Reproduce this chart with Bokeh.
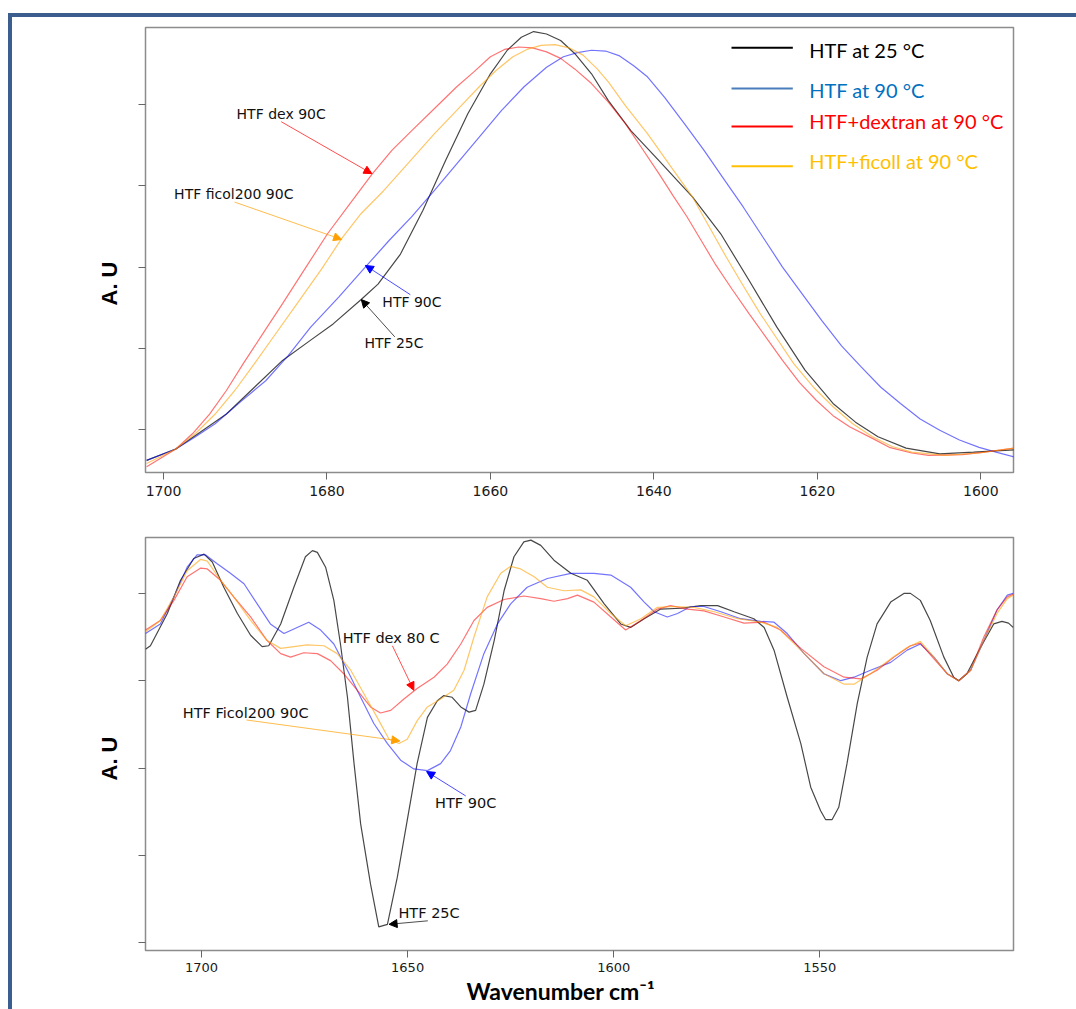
from bokeh.plotting import figure
from bokeh.models import Range1d, FixedTicker, Title, Arrow, NormalHead, ColumnDataSource
from bokeh.layouts import column
from bokeh.embed import file_html
from bokeh.resources import INLINE
from bokeh.core.properties import value

# ---------------- data: top panel (amide I, 1700-1600) ----------------
TOP_XTICKS = [1700, 1680, 1660, 1640, 1620, 1600]
Y_TICKS = [0, 1, 2, 3, 4]

top_x_htf25 = [1702.06, 1698.49, 1695.74, 1692.30, 1688.87, 1685.43, 1681.99, 1679.24, 1675.81, 1673.75,
               1671.00, 1668.25, 1665.50, 1662.75, 1660.00, 1657.94, 1656.22, 1654.71, 1653.13, 1651.41,
               1649.69, 1647.63, 1645.57, 1642.82, 1639.38, 1635.26, 1631.82, 1628.38, 1624.95, 1621.51,
               1618.08, 1615.33, 1612.58, 1609.14, 1605.02, 1600.89, 1595.88]
top_y_htf25 = [-0.38, -0.24, -0.05, 0.19, 0.52, 0.85, 1.10, 1.30, 1.60, 1.79,
               2.16, 2.70, 3.31, 3.89, 4.38, 4.67, 4.83, 4.90, 4.87, 4.79,
               4.63, 4.38, 4.05, 3.68, 3.31, 2.86, 2.41, 1.84, 1.26, 0.73,
               0.32, 0.09, -0.09, -0.23, -0.30, -0.28, -0.25]

top_x_htf90 = [1702.06, 1698.49, 1696.08, 1693.68, 1690.58, 1687.49, 1684.74, 1681.99, 1678.56, 1675.12,
               1672.37, 1669.62, 1666.87, 1664.12, 1661.37, 1658.63, 1655.88, 1653.13, 1651.07, 1649.35,
               1647.63, 1645.91, 1644.19, 1642.47, 1640.76, 1638.69, 1636.29, 1633.88, 1631.48, 1629.07,
               1626.67, 1624.26, 1621.86, 1619.45, 1617.04, 1614.64, 1612.23, 1609.83, 1607.42, 1605.02,
               1602.61, 1600.21, 1598.14, 1595.88]
top_y_htf90 = [-0.38, -0.24, -0.09, 0.07, 0.34, 0.60, 0.91, 1.26, 1.63, 2.02,
               2.33, 2.62, 2.94, 3.27, 3.60, 3.93, 4.22, 4.46, 4.59, 4.64,
               4.67, 4.66, 4.60, 4.48, 4.34, 4.09, 3.77, 3.44, 3.09, 2.74,
               2.37, 2.00, 1.67, 1.34, 1.03, 0.77, 0.52, 0.32, 0.13, -0.01,
               -0.13, -0.22, -0.28, -0.34]

top_x_dex = [1702.06, 1698.49, 1696.43, 1694.36, 1692.30, 1690.24, 1687.84, 1685.43, 1682.68, 1679.93,
             1677.18, 1674.43, 1672.03, 1669.62, 1666.87, 1664.12, 1662.06, 1660.00, 1658.28, 1656.56,
             1654.85, 1653.13, 1651.41, 1649.69, 1647.63, 1645.57, 1643.51, 1641.44, 1639.38, 1637.66,
             1635.95, 1634.23, 1632.51, 1630.45, 1628.38, 1626.32, 1624.26, 1622.20, 1620.14, 1618.08,
             1616.01, 1613.26, 1611.20, 1608.45, 1606.39, 1602.27, 1599.52, 1595.88]
top_y_dex = [-0.46, -0.24, -0.05, 0.19, 0.48, 0.81, 1.18, 1.55, 1.98, 2.41,
             2.78, 3.15, 3.44, 3.68, 3.95, 4.22, 4.40, 4.59, 4.68, 4.71,
             4.70, 4.65, 4.57, 4.44, 4.26, 4.03, 3.77, 3.46, 3.15, 2.88,
             2.62, 2.33, 2.04, 1.73, 1.43, 1.14, 0.85, 0.58, 0.36, 0.17,
             0.03, -0.11, -0.22, -0.29, -0.32, -0.31, -0.28, -0.23]

top_x_fic = [1702.06, 1698.49, 1696.08, 1693.68, 1691.27, 1688.87, 1686.12, 1683.37, 1680.62, 1678.21,
             1675.81, 1673.06, 1669.97, 1666.87, 1664.12, 1661.37, 1659.31, 1657.25, 1655.53, 1653.81,
             1652.10, 1650.38, 1648.66, 1646.94, 1645.57, 1643.51, 1640.76, 1638.01, 1635.26, 1633.20,
             1631.13, 1629.07, 1627.01, 1624.95, 1622.89, 1620.48, 1618.08, 1615.67, 1613.26, 1610.86,
             1608.45, 1604.33, 1600.21, 1595.88]
top_y_fic = [-0.42, -0.24, -0.05, 0.19, 0.48, 0.81, 1.20, 1.59, 1.98, 2.35,
             2.66, 2.94, 3.29, 3.64, 3.93, 4.22, 4.42, 4.59, 4.68, 4.73,
             4.74, 4.70, 4.61, 4.44, 4.28, 3.99, 3.64, 3.25, 2.86, 2.49,
             2.12, 1.77, 1.43, 1.12, 0.81, 0.52, 0.28, 0.07, -0.09, -0.21,
             -0.28, -0.32, -0.29, -0.23]

top_note_text = ["HTF dex 90C", "HTF ficol200 90C", "HTF 90C", "HTF 25C"]
top_note_x = [1685.6, 1691.4, 1669.6, 1671.8]
top_note_y = [3.88, 2.90, 1.57, 1.06]
top_arrow_x0 = [1685.6, 1691.3, 1669.8, 1671.7]
top_arrow_y0 = [3.79, 2.80, 1.66, 1.14]
top_arrow_x1 = [1674.5, 1678.2, 1675.3, 1675.8]
top_arrow_y1 = [3.15, 2.34, 2.02, 1.60]

legend_labels = ["HTF at 25 °C", "HTF at 90 °C", "HTF+dextran at 90 °C", "HTF+ficoll at 90 °C"]

# ---------------- data: bottom panel (second derivative, 1700-1500) ----------------
BOT_XTICKS = [1700, 1650, 1600, 1550]

bot_x_htf25 = [1713.6, 1712.4, 1708.3, 1705.1, 1701.9, 1699.4, 1697.4, 1694.6, 1691.3, 1688.1,
               1685.3, 1683.7, 1680.8, 1677.6, 1674.8, 1673.1, 1671.9, 1669.9, 1667.9, 1666.3,
               1664.6, 1663.0, 1661.4, 1659.0, 1657.0, 1654.9, 1652.5, 1650.1, 1647.7, 1645.2,
               1642.8, 1641.2, 1639.2, 1637.1, 1635.1, 1633.5, 1631.5, 1629.0, 1626.6, 1624.2,
               1621.8, 1620.1, 1617.7, 1614.5, 1610.4, 1606.4, 1602.3, 1598.3, 1595.9, 1592.6,
               1588.6, 1583.7, 1578.9, 1574.8, 1570.8, 1566.0, 1563.5, 1561.1, 1557.9, 1554.6,
               1552.2, 1549.8, 1548.6, 1547.0, 1545.4, 1543.4, 1540.9, 1538.5, 1536.1, 1532.8,
               1529.6, 1528.0, 1525.6, 1523.2, 1519.9, 1517.5, 1516.3, 1514.3, 1511.0, 1507.8,
               1505.8, 1504.2, 1503.1]
bot_y_htf25 = [3.36, 3.40, 3.77, 4.15, 4.40, 4.45, 4.36, 4.07, 3.77, 3.52,
               3.39, 3.40, 3.65, 4.07, 4.42, 4.49, 4.47, 4.30, 3.92, 3.42,
               2.81, 2.05, 1.36, 0.67, 0.18, 0.21, 0.75, 1.40, 2.05, 2.58,
               2.77, 2.83, 2.81, 2.70, 2.64, 2.66, 2.96, 3.46, 4.03, 4.42,
               4.59, 4.61, 4.55, 4.38, 4.23, 4.15, 3.88, 3.65, 3.61, 3.71,
               3.82, 3.83, 3.86, 3.86, 3.79, 3.71, 3.61, 3.35, 2.81, 2.28,
               1.78, 1.51, 1.41, 1.41, 1.55, 2.05, 2.74, 3.27, 3.65, 3.90,
               4.00, 4.00, 3.92, 3.69, 3.27, 3.04, 3.00, 3.08, 3.38, 3.65,
               3.68, 3.66, 3.61]

bot_x_htf90 = [1713.6, 1710.0, 1706.7, 1703.5, 1701.1, 1699.0, 1696.2, 1693.0, 1689.7, 1686.5,
               1683.3, 1680.0, 1676.8, 1674.0, 1671.1, 1667.9, 1664.6, 1661.4, 1658.2, 1654.9,
               1651.7, 1648.5, 1645.2, 1642.0, 1639.6, 1637.1, 1634.7, 1631.5, 1628.2, 1625.0,
               1621.0, 1616.1, 1610.4, 1604.8, 1600.7, 1595.9, 1592.6, 1590.2, 1587.0, 1584.5,
               1581.3, 1578.1, 1574.0, 1569.2, 1564.3, 1561.1, 1557.9, 1553.8, 1549.0, 1544.9,
               1541.7, 1537.7, 1532.8, 1528.8, 1525.6, 1522.3, 1519.1, 1516.3, 1513.4, 1510.2,
               1507.0, 1504.5, 1503.1]
bot_y_htf90 = [3.54, 3.65, 3.96, 4.30, 4.44, 4.44, 4.34, 4.23, 4.11, 3.88,
               3.65, 3.54, 3.61, 3.67, 3.58, 3.42, 3.12, 2.81, 2.51, 2.28,
               2.09, 1.99, 1.97, 2.05, 2.20, 2.47, 2.85, 3.31, 3.65, 3.88,
               4.07, 4.17, 4.23, 4.23, 4.21, 4.07, 3.90, 3.79, 3.73, 3.77,
               3.85, 3.85, 3.79, 3.71, 3.68, 3.67, 3.54, 3.31, 3.08, 3.00,
               3.04, 3.12, 3.21, 3.35, 3.42, 3.27, 3.08, 3.00, 3.12, 3.46,
               3.81, 3.98, 4.00]

bot_x_dex = [1713.6, 1710.0, 1706.7, 1703.5, 1700.2, 1698.6, 1695.4, 1692.2, 1688.1, 1684.1,
             1680.8, 1678.4, 1675.2, 1671.9, 1668.7, 1665.5, 1662.2, 1659.0, 1656.6, 1654.1,
             1650.9, 1647.7, 1643.6, 1640.4, 1637.1, 1633.9, 1630.7, 1626.6, 1621.8, 1617.7,
             1614.5, 1611.2, 1608.8, 1604.8, 1600.7, 1597.1, 1593.4, 1589.4, 1586.2, 1582.1,
             1578.1, 1573.2, 1568.4, 1563.5, 1559.5, 1554.6, 1549.0, 1544.1, 1540.1, 1536.1,
             1532.0, 1528.0, 1525.6, 1522.3, 1519.1, 1516.3, 1513.4, 1510.2, 1507.0, 1504.5,
             1503.1]
bot_y_dex = [3.58, 3.69, 3.92, 4.19, 4.29, 4.28, 4.15, 3.96, 3.73, 3.46,
             3.31, 3.27, 3.32, 3.31, 3.23, 3.08, 2.89, 2.70, 2.63, 2.66,
             2.79, 2.91, 3.04, 3.19, 3.42, 3.69, 3.84, 3.93, 3.97, 3.94,
             3.91, 3.94, 3.98, 3.90, 3.73, 3.58, 3.69, 3.82, 3.86, 3.82,
             3.80, 3.73, 3.66, 3.67, 3.58, 3.37, 3.16, 3.04, 3.02, 3.12,
             3.27, 3.40, 3.43, 3.25, 3.08, 3.00, 3.12, 3.50, 3.81, 3.96,
             3.99]

bot_x_fic = [1713.6, 1710.0, 1706.7, 1703.5, 1700.2, 1698.6, 1695.4, 1692.2, 1688.1, 1684.1,
             1680.8, 1677.6, 1674.4, 1670.3, 1667.1, 1663.8, 1660.6, 1657.4, 1654.5, 1652.1,
             1650.1, 1647.7, 1645.2, 1642.0, 1638.8, 1636.3, 1633.9, 1630.7, 1627.4, 1625.0,
             1622.6, 1619.3, 1616.1, 1612.1, 1608.0, 1604.8, 1600.7, 1597.1, 1593.4, 1589.4,
             1585.3, 1580.5, 1575.6, 1569.9, 1564.3, 1560.3, 1554.6, 1549.0, 1544.1, 1541.7,
             1537.7, 1532.8, 1528.8, 1525.6, 1522.3, 1519.1, 1516.3, 1513.4, 1510.2, 1507.0,
             1504.5, 1503.1]
bot_y_fic = [3.56, 3.69, 3.96, 4.26, 4.39, 4.37, 4.15, 3.96, 3.69, 3.46,
             3.37, 3.39, 3.41, 3.40, 3.31, 3.12, 2.85, 2.58, 2.33, 2.28,
             2.33, 2.54, 2.70, 2.79, 2.89, 3.12, 3.50, 3.96, 4.23, 4.31,
             4.28, 4.19, 4.07, 4.03, 4.04, 3.96, 3.77, 3.63, 3.71, 3.84,
             3.85, 3.84, 3.79, 3.71, 3.67, 3.61, 3.35, 3.08, 2.96, 2.96,
             3.08, 3.25, 3.38, 3.45, 3.27, 3.08, 3.00, 3.12, 3.46, 3.77,
             3.94, 3.98]

bot_note_text = ["HTF dex 80 C", "HTF Ficol200 90C", "HTF 90C", "HTF 25C"]
bot_note_x = [1654.0, 1689.3, 1635.9, 1644.8]
bot_note_y = [3.49, 2.63, 1.60, 0.34]
bot_arrow_x0 = [1653.7, 1689.1, 1635.9, 1645.1]
bot_arrow_y0 = [3.40, 2.55, 1.68, 0.25]
bot_arrow_x1 = [1648.5, 1651.9, 1645.4, 1654.5]
bot_arrow_y1 = [2.89, 2.31, 1.96, 0.21]

# ---------------- styles ----------------
CURVE_COLORS = {"htf25": "#000000", "htf90": "#0000ff", "dex": "#ff0000", "fic": "#ffa000"}
CURVE_ALPHA = {"htf25": 0.72, "htf90": 0.55, "dex": 0.55, "fic": 0.6}
NOTE_COLORS = ["#ff0000", "#ffa000", "#0000ff", "#000000"]
LEG_LINE_COLORS = ["#000000", "#4a7ebb", "#ff0000", "#ffc000"]
LEG_TEXT_COLORS = ["#000000", "#0070c0", "#ff0000", "#ffc000"]
BORDER = "#3b5e8e"


def style(p, xticks):
    p.xgrid.visible = False
    p.ygrid.visible = False
    p.outline_line_color = "#8c8c8c"
    p.outline_line_width = 1.5
    p.background_fill_color = "white"
    p.border_fill_color = "white"
    for ax in (p.xaxis[0], p.yaxis[0]):
        ax.axis_line_color = None
        ax.major_tick_in = 0
        ax.major_tick_out = 7
        ax.major_tick_line_color = "#666666"
        ax.major_tick_line_width = 1
        ax.minor_tick_line_color = None
    p.xaxis.ticker = FixedTicker(ticks=xticks)
    p.yaxis.ticker = FixedTicker(ticks=Y_TICKS)
    p.yaxis.major_label_text_color = None
    p.yaxis.major_label_standoff = 0
    p.xaxis.major_label_text_font = "DejaVu Sans"
    p.xaxis.major_label_text_color = "#1a1a1a"


def add_notes(p, texts, xs, ys, x0, y0, x1, y1, size):
    src = ColumnDataSource(dict(x=xs, y=ys, t=texts))
    p.text(x="x", y="y", text="t", source=src, text_align="center", text_baseline="middle",
           text_font=value("DejaVu Sans"), text_font_size=size, text_color="#111111")
    for i in range(len(texts)):
        c = NOTE_COLORS[i]
        p.add_layout(Arrow(end=NormalHead(size=8, fill_color=c, line_color=c, line_width=1),
                           x_start=x0[i], y_start=y0[i], x_end=x1[i], y_end=y1[i],
                           line_color=c, line_width=1, line_alpha=0.7))


def add_ylabel(p, offset):
    p.add_layout(Title(text="A. U", align="left", offset=offset, text_font="Liberation Sans",
                       text_font_size="22px", text_font_style="bold", text_color="#000000",
                       standoff=34), "left")


# ---------------- top figure ----------------
p1 = figure(width=1064, height=488, x_range=Range1d(1702.2, 1596.0), y_range=Range1d(-0.53, 4.95),
            output_backend="svg", toolbar_location=None,
            min_border_left=132, min_border_right=62, min_border_top=10, min_border_bottom=33)
style(p1, TOP_XTICKS)
p1.xaxis.major_label_text_font_size = "14px"
p1.xaxis.major_label_standoff = 6

for key, xs, ys in [("htf25", top_x_htf25, top_y_htf25), ("htf90", top_x_htf90, top_y_htf90),
                    ("dex", top_x_dex, top_y_dex), ("fic", top_x_fic, top_y_fic)]:
    p1.line(xs, ys, line_color=CURVE_COLORS[key], line_alpha=CURVE_ALPHA[key], line_width=1.2)

add_notes(p1, top_note_text, top_note_x, top_note_y, top_arrow_x0, top_arrow_y0,
          top_arrow_x1, top_arrow_y1, "14px")
add_ylabel(p1, 167)

# legend (drawn inside the top panel)
leg_line_y = [4.70, 4.20, 3.73, 3.24]
leg_text_y = [4.67, 4.18, 3.80, 3.31]
p1.segment(x0=[1630.5] * 4, y0=leg_line_y, x1=[1623.0] * 4, y1=leg_line_y,
           line_color=LEG_LINE_COLORS, line_width=2)
p1.text(x=[1621.0] * 4, y=leg_text_y, text=legend_labels, text_color=LEG_TEXT_COLORS,
        text_font=value("Lato"), text_font_size="20px", text_baseline="middle", text_align="left")

# ---------------- bottom figure ----------------
p2 = figure(width=1064, height=504, x_range=Range1d(1713.6, 1503.0), y_range=Range1d(-0.09, 4.64),
            output_backend="svg", toolbar_location=None,
            min_border_left=133, min_border_right=63, min_border_top=32, min_border_bottom=59)
style(p2, BOT_XTICKS)
p2.xaxis.major_label_text_font_size = "13px"
p2.xaxis.major_label_standoff = 5

for key, xs, ys in [("htf25", bot_x_htf25, bot_y_htf25), ("htf90", bot_x_htf90, bot_y_htf90),
                    ("dex", bot_x_dex, bot_y_dex), ("fic", bot_x_fic, bot_y_fic)]:
    p2.line(xs, ys, line_color=CURVE_COLORS[key], line_alpha=CURVE_ALPHA[key], line_width=1.2)

add_notes(p2, bot_note_text, bot_note_x, bot_note_y, bot_arrow_x0, bot_arrow_y0,
          bot_arrow_x1, bot_arrow_y1, "14.5px")
add_ylabel(p2, 170)
p2.add_layout(Title(text="Wavenumber cm⁻¹", align="left", offset=321, text_font="Lato",
                    text_font_size="23px", text_font_style="bold", text_color="#000000",
                    standoff=0), "below")

layout = column(p1, p2, margin=(13, 0, 0, 8),
                styles={"border-top": f"4px solid {BORDER}", "border-left": f"4px solid {BORDER}"})

open("out.html", "w").write(file_html(layout, INLINE))
